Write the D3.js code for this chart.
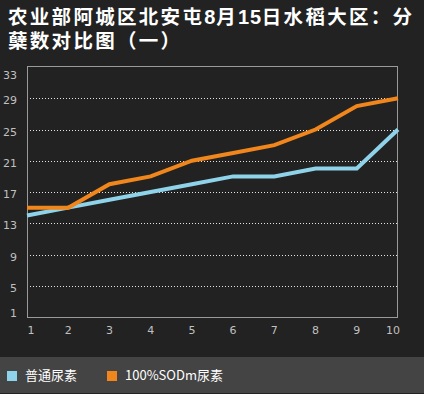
<!DOCTYPE html>
<html><head><meta charset="utf-8">
<script src="https://cdn.jsdelivr.net/npm/d3@7"></script>
<style>
html,body{margin:0;padding:0;background:#222222;}
body{position:relative;width:424px;height:394px;overflow:hidden;}
svg{display:block;position:absolute;left:0;top:0;}
#title{position:absolute;left:8px;top:3.5px;width:420px;color:#fff;font-family:'Noto Sans CJK SC',sans-serif;
  font-size:19.5px;font-weight:bold;letter-spacing:2.3px;line-height:24px;white-space:nowrap;}
#title .d{font-family:'Liberation Sans',sans-serif;font-size:20px;letter-spacing:0.8px;line-height:20px;}
</style></head>
<body>
<script>
const categories = [1,2,3,4,5,6,7,8,9,10];
const seriesNames = ["普通尿素", "100%SODm尿素"];
const seriesA = [14,15,16,17,18,19,19,20,20,25];
const seriesB = [15,15,18,19,21,22,23,25,28,29];
const yTicks = [1,5,9,13,17,21,25,29,33];
const colors = ["#8ed3e9", "#f0861c"];
const titleParts = [["农业部阿城区北安屯", false], ["8", true], ["月", false], ["15", true], ["日水稻大区：分", false]];
const titleLine2 = "蘖数对比图（一）";

(function(){
const W = 424, H = 394;
const svg = d3.select("body").append("svg").attr("width", W).attr("height", H);
svg.append("rect").attr("width", W).attr("height", H).attr("fill", "#222222");

// title (HTML so the two lines' boxes don't overlap)
const title = d3.select("body").append("div").attr("id", "title");
const l1 = title.append("div");
titleParts.forEach(([t, dig]) => l1.append("span").attr("class", dig ? "d" : null).text(t));
title.append("div").text(titleLine2);

const pl = 27, pr = 398, pt = 66, pb = 317;
const x = d3.scaleLinear().domain([1,10]).range([pl, pr]);
const y = d3.scaleLinear().domain([1,33]).range([pb, pt+1]);

// grid
svg.append("g").selectAll("line").data(yTicks.filter(v => v > 1 && v < 33)).join("line")
  .attr("x1", pl).attr("x2", pr)
  .attr("y1", d => Math.round(y(d)) + 0.5).attr("y2", d => Math.round(y(d)) + 0.5)
  .attr("stroke", "#e6e6e6").attr("stroke-width", 1).attr("stroke-dasharray", "1,2");

// frame
svg.append("rect").attr("x", pl + 0.5).attr("y", pt + 0.5)
  .attr("width", pr - pl - 1).attr("height", pb - pt)
  .attr("fill", "none").attr("stroke", "#9a9a9a").attr("stroke-width", 1);

// y labels
svg.append("g").selectAll("text").data(yTicks).join("text")
  .attr("x", 17).attr("y", d => Math.min(Math.max(y(d) + 6, pt + 13), pb))
  .attr("text-anchor", "end").attr("fill", "#c0c0c0")
  .style("font-family", "'DejaVu Sans', sans-serif").style("font-size", "11px")
  .text(d => d);

// x labels
svg.append("g").selectAll("text").data(categories).join("text")
  .attr("x", d => Math.min(Math.max(x(d), pl + 4), pr - 5)).attr("y", 334)
  .attr("text-anchor", "middle").attr("fill", "#c0c0c0")
  .style("font-family", "'DejaVu Sans', sans-serif").style("font-size", "11px")
  .text(d => d);

// lines
const line = d3.line().x((d,i) => x(categories[i])).y(d => y(d));
[seriesA, seriesB].forEach((s, k) => {
  svg.append("path").datum(s).attr("d", line)
    .attr("fill", "none").attr("stroke", colors[k]).attr("stroke-width", 4)
    .attr("stroke-linejoin", "miter");
});

// legend band
svg.append("rect").attr("x", 0).attr("y", 357).attr("width", W).attr("height", 36).attr("fill", "#444444");
const legX = [7, 107];
seriesNames.forEach((n, i) => {
  svg.append("rect").attr("x", legX[i]).attr("y", 371).attr("width", 10).attr("height", 10).attr("fill", colors[i]);
  svg.append("text").attr("x", legX[i] + 18).attr("y", 380).attr("fill", "#ffffff")
    .style("font-family", "'Noto Sans CJK SC', sans-serif").style("font-size", "13px").text(n);
});
})();
</script>
</body></html>
